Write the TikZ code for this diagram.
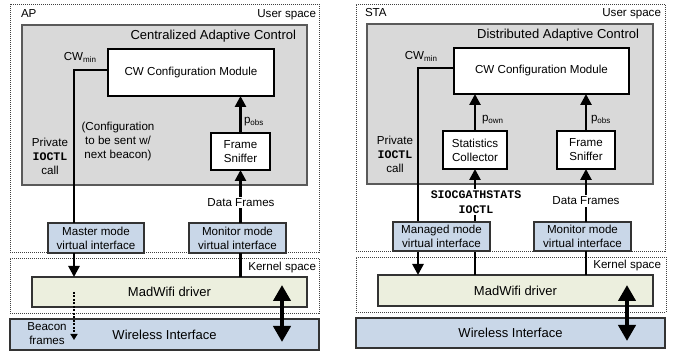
\documentclass[tikz,border=0pt]{standalone}
\usepackage{fontspec}
\setmainfont{Liberation Sans}
\setmonofont{Liberation Mono}
\usetikzlibrary{arrows.meta}
\definecolor{grayfill}{HTML}{D9D9D9}
\definecolor{grayedge}{HTML}{5A5A5A}
\definecolor{bluefill}{HTML}{C9D7E8}
\definecolor{madfill}{HTML}{ECEFDE}
\definecolor{edgecol}{HTML}{333333}
\pgfdeclarelayer{fg}
\pgfsetlayers{main,fg}
\newcommand{\ioc}[1]{{\ttfamily\bfseries #1}}
\newcommand{\subs}[1]{\raisebox{-2pt}{\fontsize{8}{8}\selectfont #1}}
\begin{document}
\begin{tikzpicture}[x=1pt,y=-1pt,
  every node/.style={font=\fontsize{11.6}{14}\selectfont, inner sep=0pt, outer sep=0pt},
  space/.style={draw=black!75, dash pattern=on 1pt off 1pt, line width=0.8pt, anchor=north west},
  ctrl/.style={draw=grayedge, fill=grayfill, line width=1.2pt, anchor=north west},
  wbox/.style={draw=black, fill=white, line width=1.2pt, align=center, anchor=north west},
  vbox/.style={draw=edgecol, fill=bluefill, line width=1.2pt, align=center, anchor=north west},
  drv/.style={draw=edgecol, fill=madfill, line width=1.2pt, anchor=north west, font=\fontsize{13}{15}\selectfont},
  wif/.style={draw=edgecol, fill=bluefill, line width=1.2pt, anchor=north west, font=\fontsize{13}{15}\selectfont},
  big/.style={font=\fontsize{13}{15}\selectfont},
  conn/.style={line width=2.6pt},
  arr/.style={line width=2.6pt, -{Triangle[length=11pt,width=11pt]}},
  dbl/.style={line width=4pt, {Triangle[length=16pt,width=17pt]}-{Triangle[length=16pt,width=17pt]}},
  beac/.style={line width=1.5pt, dash pattern=on 2pt off 1.5pt, -{Triangle[length=6pt,width=7pt]}},
  lab/.style={fill=white, inner sep=1.5pt, align=center},
]
\useasboundingbox (0,0) rectangle (680,352);

% ================= LEFT: AP =================
\node[space, minimum width=309pt, minimum height=248pt] (userL) at (10,4) {};
\node[space, minimum width=309pt, minimum height=55pt] (kernL) at (10,258) {};
\node[anchor=base west] (apL) at (21,17.5) {AP};
\node[anchor=base east] (usL) at (316,17.5) {User space};
\node[anchor=base east] (ksL) at (316,270.5) {Kernel space};
\node[ctrl, minimum width=285pt, minimum height=160pt] (grayL) at (22,25) {};
\node[big, anchor=base east] (cacL) at (296,39.5) {Centralized Adaptive Control};
\node[wbox, minimum width=166pt, minimum height=47pt] (cwL) at (108,49) {CW Configuration Module};
\node[anchor=base east] (cwminL) at (96,61) {CW\subs{min}};
\node[align=center] (privL) at (50,156) {Private\\\ioc{IOCTL}\\call};
\node[align=center] (cfgL) at (118,142) {(Configuration\\to be sent w/\\next beacon)};
\node[wbox, minimum width=59pt, minimum height=37pt] (fsL) at (211,133) {Frame\\Sniffer};
\node[anchor=west] (pobsL) at (244,122) {p\subs{obs}};
\node[vbox, minimum width=96pt, minimum height=30pt] (masterL) at (48,223) {Master mode\\virtual interface};
\node[vbox, minimum width=97pt, minimum height=30pt] (monL) at (189,223) {Monitor mode\\virtual interface};
\node[drv, minimum width=275pt, minimum height=30pt] (madL) at (32,277) {MadWifi driver};
\node[wif, minimum width=309pt, minimum height=31pt] (wiL) at (10,319) {Wireless Interface};
\node[align=center] (beaconL) at (47,334) {Beacon\\frames};
\begin{pgfonlayer}{fg}
\node[lab] (dfL) at (241,202.5) {Data Frames};
\end{pgfonlayer}
\coordinate (cL) at (74,70);
\coordinate (b1L) at (74,292);
\coordinate (b2L) at (74,340);
\coordinate (d1L) at (282,285);
\coordinate (d2L) at (282,342);

\draw[conn] (cwL.west |- cL) -- (cL) -- (cL |- masterL.north);
\draw[arr] (cL |- masterL.south) -- (cL |- madL.north);
\draw[arr] (fsL.north) -- (fsL.north |- cwL.south);
\draw[arr] (fsL.south |- monL.north) -- (fsL.south);
\draw[conn] (fsL.south |- monL.south) -- (fsL.south |- madL.north);
\draw[beac] (b1L) -- (b2L);
\draw[dbl] (d1L) -- (d2L);

% ================= RIGHT: STA =================
\node[space, minimum width=309pt, minimum height=247pt] (userR) at (356,4) {};
\node[space, minimum width=310pt, minimum height=55pt] (kernR) at (356,257) {};
\node[anchor=base west] (staR) at (365,17) {STA};
\node[anchor=base east] (usR) at (661,17) {User space};
\node[anchor=base east] (ksR) at (661,269) {Kernel space};
\node[ctrl, minimum width=286pt, minimum height=160pt] (grayR) at (367,24) {};
\node[big, anchor=base east] (dacR) at (639,38.5) {Distributed Adaptive Control};
\node[wbox, minimum width=175pt, minimum height=46pt] (cwR) at (454,48) {CW Configuration Module};
\node[anchor=base east] (cwminR) at (437,59.5) {CW\subs{min}};
\node[align=center] (privR) at (395,154) {Private\\\ioc{IOCTL}\\call};
\node[wbox, minimum width=64pt, minimum height=38pt] (statsR) at (443,131) {Statistics\\Collector};
\node[wbox, minimum width=58pt, minimum height=38pt] (fsR) at (557,131) {Frame\\Sniffer};
\node[anchor=west] (pownR) at (482,120) {p\subs{own}};
\node[anchor=west] (pobsR) at (591,120) {p\subs{obs}};
\node[vbox, minimum width=97pt, minimum height=29pt] (monR) at (534,222) {Monitor mode\\virtual interface};
\node[drv, minimum width=275pt, minimum height=31pt] (madR) at (378,275) {MadWifi driver};
\node[wif, minimum width=309pt, minimum height=30pt] (wiR) at (356,318) {Wireless Interface};
\begin{pgfonlayer}{fg}
\node[vbox, minimum width=97pt, minimum height=29pt] (manR) at (393,222) {Managed mode\\virtual interface};
\node[lab, font=\fontsize{11.6}{15.5}\selectfont] (siocR) at (476,202) {\ioc{SIOCGATHSTATS}\\\ioc{IOCTL}};
\node[lab] (dfR) at (586,201) {Data Frames};
\end{pgfonlayer}
\coordinate (cR) at (418,68);
\coordinate (d1R) at (627,285);
\coordinate (d2R) at (627,341);

\draw[conn] (cwR.west |- cR) -- (cR) -- (cR |- manR.north);
\draw[arr] (cR |- manR.south) -- (cR |- madR.north);
\draw[arr] (statsR.north) -- (statsR.north |- cwR.south);
\draw[arr] (fsR.north) -- (fsR.north |- cwR.south);
\draw[arr] (statsR.south |- madR.north) -- (statsR.south);
\draw[arr] (fsR.south |- monR.north) -- (fsR.south);
\draw[conn] (fsR.south |- monR.south) -- (fsR.south |- madR.north);
\draw[dbl] (d1R) -- (d2R);
\end{tikzpicture}
\end{document}
